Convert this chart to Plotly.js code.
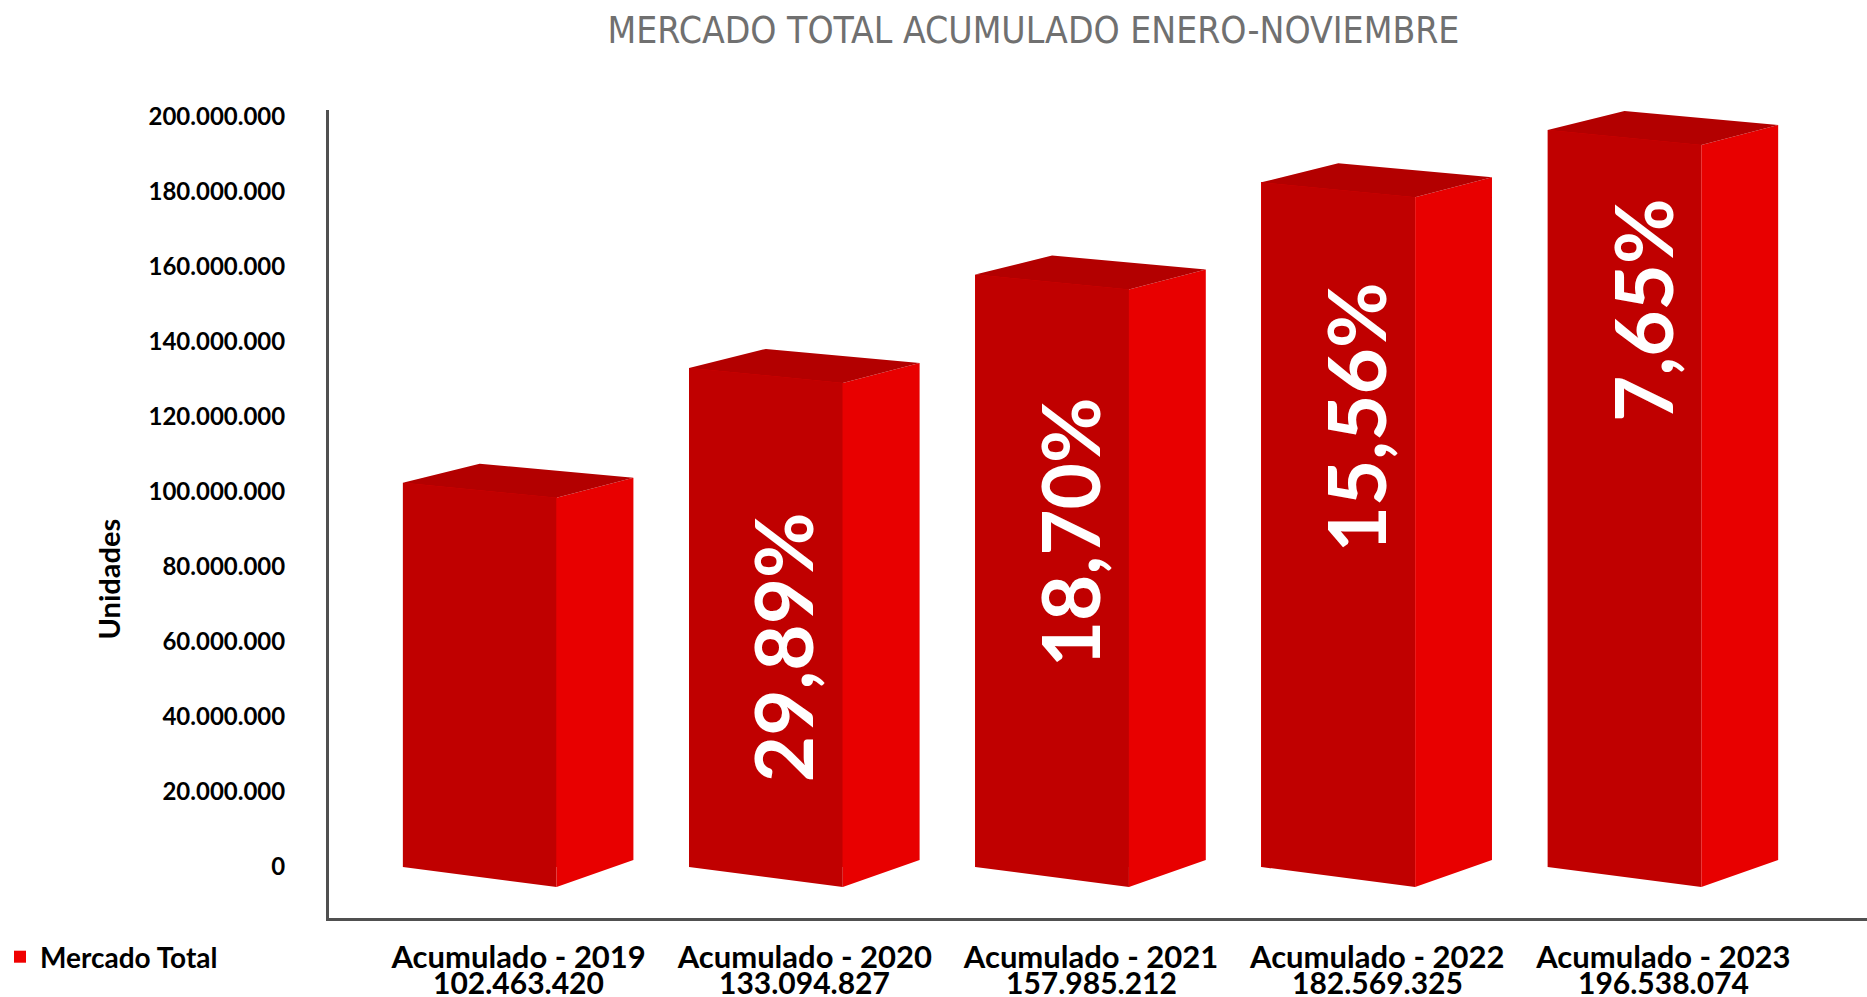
<!DOCTYPE html>
<html>
<head>
<meta charset="utf-8">
<script src="https://cdn.plot.ly/plotly-3.0.1.min.js"></script>
<style>
  html, body { margin: 0; padding: 0; background: #ffffff; }
  #chart { width: 1867px; height: 997px; }
</style>
</head>
<body>
<div id="chart"></div>
<script>
// ---------- DATA ----------
const categories = ['Acumulado - 2019', 'Acumulado - 2020', 'Acumulado - 2021', 'Acumulado - 2022', 'Acumulado - 2023'];
const values = [102463420, 133094827, 157985212, 182569325, 196538074];
const yTickValues = [0, 20000000, 40000000, 60000000, 80000000, 100000000, 120000000, 140000000, 160000000, 180000000, 200000000];
const seriesName = 'Mercado Total';
const chartTitle = 'MERCADO TOTAL ACUMULADO ENERO-NOVIEMBRE';
const yTitle = 'Unidades';

// ---------- LAYOUT / STYLE ----------
const W = 1867, H = 997;
const M = { l: 326, r: 0, t: 110, b: 79 };
const plotW = W - M.l - M.r, plotH = H - M.t - M.b;
const xRange = [-0.6626, -0.6626 + plotW / 286.75];
const yRange = [-13.6e6, -13.6e6 + plotH / 3.75e-6];
const dx = px => px * (xRange[1] - xRange[0]) / plotW;
const dy = px => px * (yRange[1] - yRange[0]) / plotH;
const paperX = px => (px - M.l) / plotW;
const paperY = px => (H - M.b - px) / plotH;

// 3D box geometry in pixels (relative to the category centre / bar top / base)
const G = { frontLeft: -116, frontW: 154, depth: 77,
            topFR: -15, topBR: 5, topBL: 19, baseFR: -20, baseSR: 7 };
const COLORS = { front: '#C00000', side: '#E80000', top: '#B30000', legend: '#F00000' };
const labelFrac = [null, 0.44, 0.565, 0.657, 0.755];   // vertical position of % labels inside the bar
const labelShift = -22;                                 // px from category centre

const fmt = n => String(n).replace(/\B(?=(\d{3})+(?!\d))/g, '.');
const idx = categories.map((_, i) => i);

// ---------- FACES ----------
const frontFace = { x: [], y: [] }, sideFace = { x: [], y: [] }, topFace = { x: [], y: [] };
idx.forEach(i => {
  const v = values[i];
  const xl = i + dx(G.frontLeft), xr = xl + dx(G.frontW), xb = xr + dx(G.depth), xbl = xl + dx(G.depth);
  frontFace.x.push(xl, xr, xr, xl, null);
  frontFace.y.push(0, dy(G.baseFR), v + dy(G.topFR), v, null);
  sideFace.x.push(xr, xb, xb, xr, null);
  sideFace.y.push(dy(G.baseFR), dy(G.baseSR), v + dy(G.topBR), v + dy(G.topFR), null);
  topFace.x.push(xl, xr, xb, xbl, null);
  topFace.y.push(v, v + dy(G.topFR), v + dy(G.topBR), v + dy(G.topBL), null);
});
const face = (d, c) => ({ type: 'scatter', mode: 'lines', x: d.x, y: d.y, fill: 'toself',
  fillcolor: c, line: { width: 0, color: c }, showlegend: false, hoverinfo: 'skip' });

const traces = [
  { type: 'bar', name: seriesName, x: idx, y: values, offset: dx(G.frontLeft), width: dx(G.frontW),
    marker: { color: COLORS.legend, line: { width: 0 } }, hoverinfo: 'skip' },
  face(frontFace, COLORS.front),
  face(sideFace, COLORS.side),
  face(topFace, COLORS.top)
];

// ---------- ANNOTATIONS ----------
const boldFont = (size, color) => ({ family: 'Lato, sans-serif', size: size, color: color, weight: 'bold' });
const annotations = [];
idx.forEach(i => {
  if (i > 0) {
    const pct = ((values[i] / values[i - 1] - 1) * 100).toFixed(2).replace('.', ',') + '%';
    annotations.push({ x: i + dx(labelShift), y: values[i] * labelFrac[i], xref: 'x', yref: 'y',
      text: pct, textangle: -90, showarrow: false, xanchor: 'center', yanchor: 'middle',
      font: boldFont(80, '#ffffff') });
  }
  annotations.push({ x: i, y: paperY(982), xref: 'x', yref: 'paper',
    text: fmt(values[i]), showarrow: false, xanchor: 'center', yanchor: 'middle',
    font: boldFont(30, '#000000') });
});
annotations.push({ x: paperX(105), y: paperY(579), xref: 'paper', yref: 'paper', text: yTitle,
  textangle: -90, showarrow: false, xanchor: 'center', yanchor: 'middle', font: boldFont(29, '#000000') });

const layout = {
  width: W, height: H, margin: M,
  paper_bgcolor: '#ffffff', plot_bgcolor: '#ffffff',
  title: { text: chartTitle, x: 1033.5 / W, xanchor: 'center', y: 1 - 30 / H, yanchor: 'middle',
    font: { family: '"Liberation Sans Narrow", "DejaVu Sans Condensed", Roboto, sans-serif', size: 37, color: '#707070', weight: 300 } },
  showlegend: true,
  legend: { x: paperX(-4), xanchor: 'left', y: paperY(957), yanchor: 'middle',
    font: boldFont(28, '#000000'), bgcolor: 'rgba(0,0,0,0)' },
  xaxis: { type: 'linear', range: xRange, tickmode: 'array', tickvals: idx, ticktext: categories,
    showgrid: false, zeroline: false, showline: true, linecolor: '#505050', linewidth: 3, ticks: '',
    ticklabelstandoff: 10, fixedrange: true, tickfont: boldFont(31, '#000000') },
  yaxis: { range: yRange, tickmode: 'array', tickvals: yTickValues, ticktext: yTickValues.map(fmt),
    showgrid: false, zeroline: false, showline: true, linecolor: '#505050', linewidth: 3, ticks: '',
    ticklabelstandoff: 36, fixedrange: true, tickfont: boldFont(24, '#000000') },
  annotations: annotations,
  bargap: 0
};

Plotly.newPlot('chart', traces, layout, { displayModeBar: false, staticPlot: true });
</script>
</body>
</html>
